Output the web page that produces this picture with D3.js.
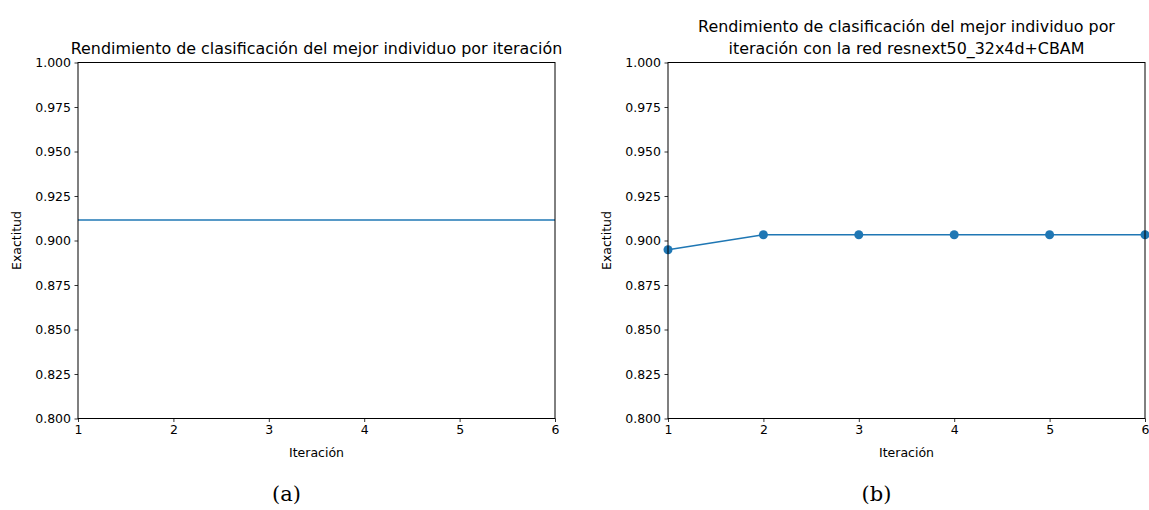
<!DOCTYPE html>
<html>
<head>
<meta charset="utf-8">
<script src="https://cdn.jsdelivr.net/npm/d3@7"></script>
<style>
  body { margin: 0; background: #fff; }
  svg text { font-family: "DejaVu Sans", sans-serif; fill: #000; }
</style>
</head>
<body>
<div id="chart"></div>
<script>
// data
var iterations = [1, 2, 3, 4, 5, 6];
var accuracyA = [0.9115, 0.9115, 0.9115, 0.9115, 0.9115, 0.9115];
var accuracyB = [0.8948, 0.9032, 0.9032, 0.9032, 0.9032, 0.9032];
var yTicks = [0.800, 0.825, 0.850, 0.875, 0.900, 0.925, 0.950, 0.975, 1.000];
var titleA = ["Rendimiento de clasificación del mejor individuo por iteración"];
var titleB = ["Rendimiento de clasificación del mejor individuo por",
              "iteración con la red resnext50_32x4d+CBAM"];
var captions = ["(a)", "(b)"];

var svg = d3.select("#chart").append("svg")
  .attr("width", 1149)
  .attr("height", 510);

var blue = "#1f77b4";

/**
 * draws one matplotlib-like panel
 */
function drawPanel(left, values, titleLines, caption, markers)
{
  var top = 62.5, bottom = 418.5, width = 477;
  var x = d3.scaleLinear().domain([1, 6]).range([left, left + width]);
  var y = d3.scaleLinear().domain([0.8, 1.0]).range([bottom, top]);

  var g = svg.append("g");

  // line
  var line = d3.line()
    .x(function(d, i) { return x(iterations[i]); })
    .y(function(d) { return y(d); });

  var clipId = "clip" + left;
  g.append("clipPath").attr("id", clipId)
    .append("rect")
    .attr("x", left - 6).attr("y", top)
    .attr("width", width + 12).attr("height", bottom - top);

  g.append("path")
    .datum(values)
    .attr("d", line)
    .attr("fill", "none")
    .attr("stroke", blue)
    .attr("stroke-width", 1.6);

  if (markers)
  {
    g.append("g").attr("clip-path", "url(#" + clipId + ")")
      .selectAll("circle")
      .data(values)
      .enter().append("circle")
      .attr("cx", function(d, i) { return x(iterations[i]); })
      .attr("cy", function(d) { return y(d); })
      .attr("r", 4.5)
      .attr("fill", blue);
  }

  // axes
  var xAxis = d3.axisBottom(x).tickValues(iterations).tickSize(3.5).tickPadding(3.5)
    .tickFormat(d3.format("d"));
  var yAxis = d3.axisLeft(y).tickValues(yTicks).tickSize(3.5).tickPadding(3.5)
    .tickFormat(d3.format(".3f"));

  var gx = g.append("g").attr("transform", "translate(0," + bottom + ")").call(xAxis);
  var gy = g.append("g").attr("transform", "translate(" + left + ",0)").call(yAxis);
  [gx, gy].forEach(function(a) {
    a.select(".domain").remove();
    a.selectAll("line").attr("stroke", "#000").attr("stroke-width", 0.8);
    a.selectAll("text").style("font-size", "12.5px").style("font-family", "DejaVu Sans");
  });

  // frame
  g.append("rect")
    .attr("x", left).attr("y", top)
    .attr("width", width).attr("height", bottom - top)
    .attr("fill", "none")
    .attr("stroke", "#000")
    .attr("stroke-width", 1);

  // axis labels
  g.append("text")
    .attr("x", left + width / 2).attr("y", 457)
    .attr("text-anchor", "middle")
    .style("font-size", "12.5px")
    .text("Iteración");
  g.append("text")
    .attr("transform", "translate(" + (left - 57) + "," + (top + bottom) / 2 + ") rotate(-90)")
    .attr("text-anchor", "middle")
    .style("font-size", "12.5px")
    .text("Exactitud");

  // title
  var baseY = 54 - (titleLines.length - 1) * 22;
  titleLines.forEach(function(t, i) {
    g.append("text")
      .attr("x", left + width / 2).attr("y", baseY + i * 22)
      .attr("text-anchor", "middle")
      .style("font-size", "15.9px")
      .text(t);
  });

  // caption
  g.append("text")
    .attr("x", left + width / 2 - 30).attr("y", 501)
    .attr("text-anchor", "middle")
    .style("font-family", "'DejaVu Serif', 'Liberation Serif', serif")
    .style("font-size", "21px")
    .text(caption);
}

drawPanel(78, accuracyA, titleA, captions[0], false);
drawPanel(668, accuracyB, titleB, captions[1], true);
</script>
</body>
</html>
